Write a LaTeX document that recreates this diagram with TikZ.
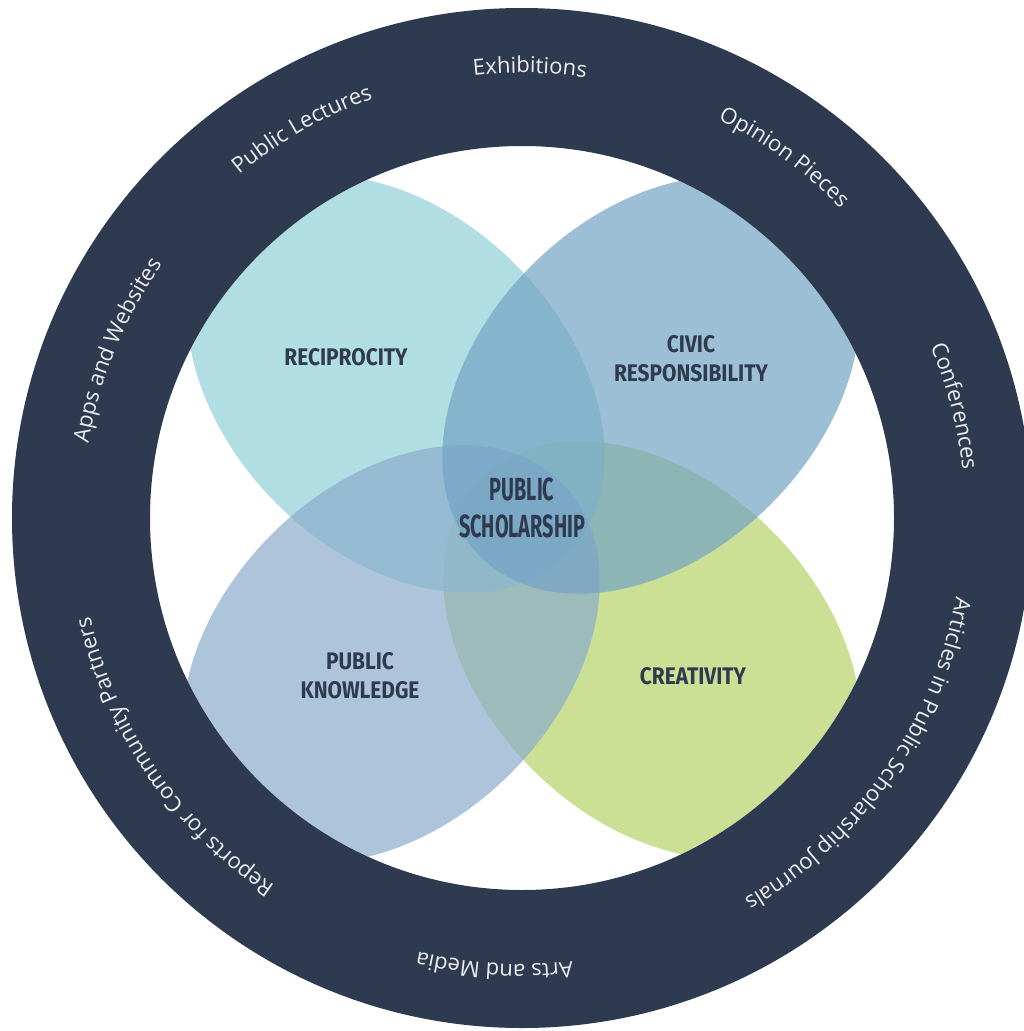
\documentclass[tikz,border=0pt]{standalone}
\usepackage{fontspec}
\usepackage{tikz}
\usetikzlibrary{decorations.text}
\setmainfont{Open Sans}
\newfontfamily\petalfont[FakeStretch=0.87]{Fira Sans}
\newfontfamily\hubfont[FakeStretch=0.62]{Fira Sans}
\definecolor{ringnavy}{RGB}{46,58,80}
\definecolor{inknavy}{RGB}{47,58,78}
\definecolor{ringink}{RGB}{236,238,241}
\definecolor{tealpetal}{RGB}{145,209,214}
\definecolor{civicpetal}{RGB}{115,164,196}
\definecolor{knowpetal}{RGB}{139,172,204}
\definecolor{greenpetal}{RGB}{181,211,104}

\begin{document}
\begin{tikzpicture}[x=1pt, y=1pt
			,petal/.style={fill=#1, fill opacity=0.7}
			,tag/.style={text=inknavy, font=\petalfont\bfseries\fontsize{24}{29}\selectfont, align=center, inner sep=0pt}
			,hub/.style={text=inknavy, font=\hubfont\bfseries\fontsize{32}{37}\selectfont, align=center, inner sep=0pt}
			,ringlabel/.style={decorate, decoration={text along path, text align=center, text={|\color{ringink}\fontsize{22}{26}\selectfont|#1}}}
		]
	\fill[white] (0,0) rectangle (1024,-1031);
	\useasboundingbox (0,0) rectangle (1024,-1031);
	\coordinate (O) at (522,-518);
	\coordinate (tealc) at (396,-384);
	\coordinate (civicc) at (651,-385);
	\coordinate (knowc) at (391,-654);
	\coordinate (greenc) at (652,-650);
	\begin{scope}
		\clip (O) circle[radius=372];
		\fill[petal=greenpetal, rotate around={-45:(greenc)}] (greenc) ellipse[x radius=242, y radius=169];
		\fill[petal=tealpetal, rotate around={-45:(tealc)}] (tealc) ellipse[x radius=242, y radius=169];
		\fill[petal=knowpetal, rotate around={45:(knowc)}] (knowc) ellipse[x radius=242, y radius=169];
		\fill[petal=civicpetal, rotate around={45:(civicc)}] (civicc) ellipse[x radius=242, y radius=169];
	\end{scope}
	\fill[ringnavy, even odd rule] (O) circle[radius=510] (O) circle[radius=372];

	\node[tag] (recip) at (346,-357) {RECIPROCITY};
	\node[tag] (civic) at (691,-359) {CIVIC\\RESPONSIBILITY};
	\node[tag] (knowl) at (360,-676) {PUBLIC\\KNOWLEDGE};
	\node[tag] (creat) at (693,-676) {CREATIVITY};
	\node[hub] (core) at (522,-508) {PUBLIC\\SCHOLARSHIP};

	\path[ringlabel=Exhibitions] ([shift={(150:445)}]O) arc[start angle=150, end angle=28, radius=445];
	\path[ringlabel=Public Lectures] ([shift={(180:445)}]O) arc[start angle=180, end angle=59, radius=445];
	\path[ringlabel=Opinion Pieces] ([shift={(115:444)}]O) arc[start angle=115, end angle=-7, radius=444];
	\path[ringlabel=Apps and Websites] ([shift={(220:440)}]O) arc[start angle=220, end angle=95, radius=440];
	\path[ringlabel=Conferences] ([shift={(75:443)}]O) arc[start angle=75, end angle=-46, radius=443];
	\path[ringlabel=Articles in Public Scholarship Journals] ([shift={(40:441)}]O) arc[start angle=40, end angle=-110, radius=441];
	\path[ringlabel=Arts and Media] ([shift={(-30:446)}]O) arc[start angle=-30, end angle=-157, radius=446];
	\path[ringlabel=Reports for Community Partners] ([shift={(-80:443)}]O) arc[start angle=-80, end angle=-211, radius=443];
\end{tikzpicture}
\end{document}
